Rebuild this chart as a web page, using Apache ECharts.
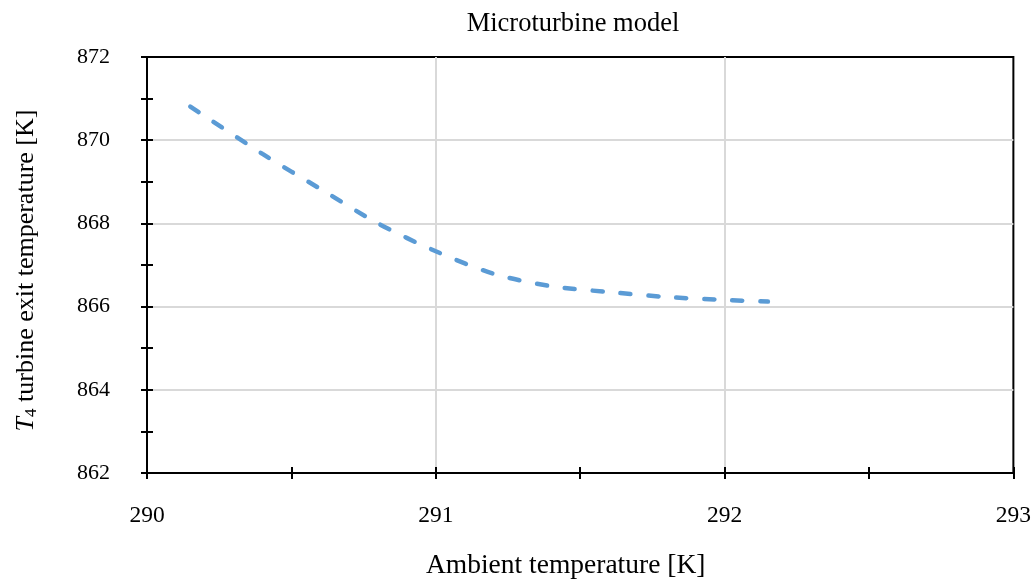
<!DOCTYPE html>
<html>
<head>
<meta charset="utf-8">
<script src="https://cdn.jsdelivr.net/npm/echarts@6/dist/echarts.min.js"></script>
<style>
  html, body { margin: 0; padding: 0; background: #fff; }
  #chart { width: 1034px; height: 585px; }
</style>
</head>
<body>
<div id="chart"></div>
<script>
// Microturbine model: T4 exit temperature vs ambient temperature
const ambientK = [290.15, 290.4, 290.6, 290.8, 291.0, 291.2, 291.4, 291.6, 291.8, 292.0, 292.15];
const t4K      = [870.81, 869.67, 868.83, 868.00, 867.33, 866.79, 866.49, 866.35, 866.23, 866.16, 866.12];

const FONT = '"Liberation Serif", "DejaVu Serif", serif';
const GRID_LINE = { showMinLine: false, showMaxLine: false, lineStyle: { color: '#d9d9d9', width: 2 } };

const chart = echarts.init(document.getElementById('chart'), null, { renderer: 'canvas' });

// main axes carry labels + outside ticks, overlay axes add the inside half of each tick
function xAxisBase(inside) {
  return {
    type: 'value',
    min: 290,
    max: 293,
    interval: 1,
    position: 'bottom',
    axisLine: { show: !inside, lineStyle: { color: '#000', width: 2 } },
    axisTick: { show: true, inside, length: 6, lineStyle: { color: '#000', width: 2 } },
    minorTick: { show: true, splitNumber: 2, length: 6, lineStyle: { color: '#000', width: 2 } },
    axisLabel: { show: !inside, margin: 31, color: '#000', fontFamily: FONT, fontSize: 23.5 },
    splitLine: inside ? { show: false } : GRID_LINE,
  };
}

function yAxisBase(inside) {
  return {
    type: 'value',
    min: 862,
    max: 872,
    interval: 2,
    position: 'left',
    axisLine: { show: !inside, lineStyle: { color: '#000', width: 2 } },
    axisTick: { show: true, inside, length: 6, lineStyle: { color: '#000', width: 2 } },
    minorTick: { show: true, splitNumber: 2, length: 6, lineStyle: { color: '#000', width: 2 } },
    axisLabel: { show: !inside, margin: 37, color: '#000', fontFamily: FONT, fontSize: 22 },
    splitLine: inside ? { show: false } : GRID_LINE,
  };
}

chart.setOption({
  backgroundColor: '#fff',
  animation: false,
  title: {
    text: 'Microturbine model',
    left: 568,
    top: 6,
    textAlign: 'center',
    textStyle: { color: '#000', fontFamily: FONT, fontSize: 26.5, fontWeight: 'normal' },
  },
  grid: {
    left: 147, right: 17, top: 57, bottom: 108,
    show: true, borderColor: '#000', borderWidth: 2, backgroundColor: 'transparent',
  },
  xAxis: [
    Object.assign(xAxisBase(false), {
      name: 'Ambient temperature [K]',
      nameLocation: 'middle',
      nameGap: 79,
      nameTextStyle: { color: '#000', fontFamily: FONT, fontSize: 27.5, padding: [0, 29, 0, 0] },
    }),
    xAxisBase(true),
  ],
  yAxis: [
    Object.assign(yAxisBase(false), {
      name: '{i|T}{sub|4}{n| turbine exit temperature [K]}',
      nameLocation: 'middle',
      nameGap: 107,
      nameTextStyle: {
        color: '#000',
        fontFamily: FONT,
        fontSize: 26,
        padding: [0, 11, 0, 0],
        rich: {
          i: { fontStyle: 'italic', fontFamily: FONT, fontSize: 26, lineHeight: 28, color: '#000' },
          sub: { fontFamily: FONT, fontSize: 17, lineHeight: 28, verticalAlign: 'bottom', color: '#000' },
          n: { fontFamily: FONT, fontSize: 26, lineHeight: 28, color: '#000' },
        },
      },
    }),
    yAxisBase(true),
  ],
  series: [
    {
      name: 'T4',
      type: 'line',
      xAxisIndex: 0,
      yAxisIndex: 0,
      smooth: 0.3,
      showSymbol: false,
      data: ambientK.map((x, i) => [x, t4K[i]]),
      lineStyle: { color: '#5b9bd5', width: 4.5, type: [10, 18], cap: 'round' },
    },
  ],
});
</script>
</body>
</html>
